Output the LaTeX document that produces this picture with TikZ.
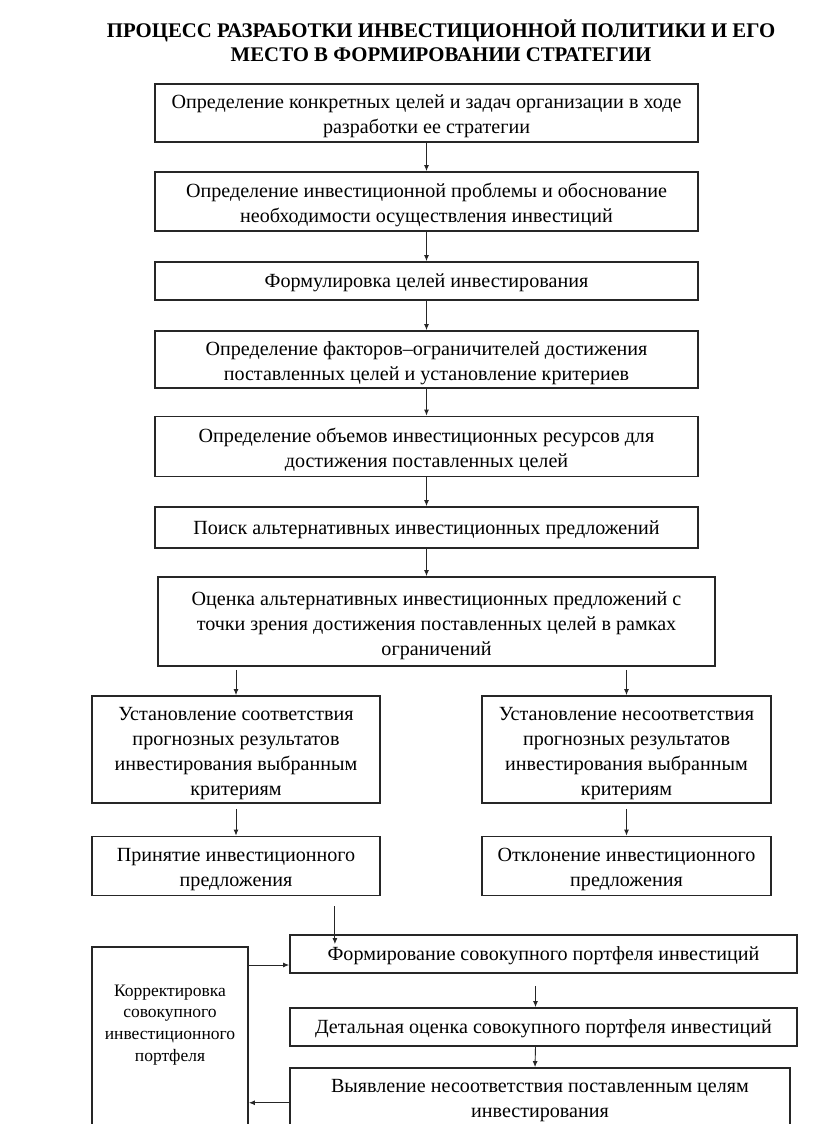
\documentclass[tikz,border=0pt]{standalone}
\usepackage{fontspec}
\setmainfont{Liberation Serif}
\usetikzlibrary{arrows.meta}
\newcommand\boxtext[2][6pt]{\raisebox{0pt}[\dimexpr\height+#1\relax][\depth]{\begin{tabular}{@{}c@{}}#2\end{tabular}}}
\begin{document}
\begin{tikzpicture}[x=1pt,y=-1pt,
  box/.style={draw=black!85, line width=1.8pt, inner sep=0pt,
    font=\fontsize{20.1}{25}\selectfont},
  arr/.style={draw=black!85, line width=0.9pt, -{Latex[length=6pt,width=5pt]}},
  ttl/.style={align=center, font=\fontsize{20.8}{24}\selectfont\bfseries}]
\useasboundingbox (0,0) rectangle (816,1124);
\node[ttl] (title) at (441,41) {ПРОЦЕСС РАЗРАБОТКИ ИНВЕСТИЦИОННОЙ ПОЛИТИКИ И ЕГО\\МЕСТО В ФОРМИРОВАНИИ СТРАТЕГИИ};
\node[box, minimum width=543pt, minimum height=58pt] (b1) at (426.5,113) {\boxtext{Определение конкретных целей и задач организации в ходе\\разработки ее стратегии}};
\node[box, minimum width=543pt, minimum height=59pt] (b2) at (426.5,201.5) {\boxtext{Определение инвестиционной проблемы и обоснование\\необходимости осуществления инвестиций}};
\node[box, minimum width=543pt, minimum height=38pt] (b3) at (426.5,281) {\boxtext[3pt]{Формулировка целей инвестирования}};
\node[box, minimum width=543pt, minimum height=57pt] (b4) at (426.5,359.5) {\boxtext{Определение факторов–ограничителей достижения\\поставленных целей и установление критериев}};
\node[box, minimum width=543pt, minimum height=60pt] (b5) at (426.5,446.5) {\boxtext{Определение объемов инвестиционных ресурсов для\\достижения поставленных целей}};
\node[box, minimum width=543pt, minimum height=41pt] (b6) at (426.5,527.5) {\boxtext[3pt]{Поиск альтернативных инвестиционных предложений}};
\node[box, minimum width=557pt, minimum height=89pt] (b7) at (436.5,621.5) {\boxtext[8pt]{Оценка альтернативных инвестиционных предложений с\\точки зрения достижения поставленных целей в рамках\\ограничений}};
\node[box, minimum width=288pt, minimum height=106pt] (b8l) at (236,749.5) {\boxtext[7pt]{Установление соответствия\\прогнозных результатов\\инвестирования выбранным\\критериям}};
\node[box, minimum width=289pt, minimum height=106pt] (b8r) at (626.5,749.5) {\boxtext[7pt]{Установление несоответствия\\прогнозных результатов\\инвестирования выбранным\\критериям}};
\node[box, minimum width=288pt, minimum height=59pt] (b9l) at (236,866) {\boxtext[5pt]{Принятие инвестиционного\\предложения}};
\node[box, minimum width=289pt, minimum height=59pt] (b9r) at (626.5,866) {\boxtext[5pt]{Отклонение инвестиционного\\предложения}};
\node[box, minimum width=507pt, minimum height=38pt] (b10) at (543.5,954) {\boxtext[3pt]{Формирование совокупного портфеля инвестиций}};
\node[box, minimum width=156pt, minimum height=190pt] (lb) at (170,1042) {};
\node[align=center, font=\fontsize{17.5}{21.7}\selectfont, anchor=north] (lbt) at (170,981) {Корректировка\\совокупного\\инвестиционного\\портфеля};
\node[box, minimum width=507pt, minimum height=38pt] (b11) at (543.5,1027) {\boxtext[3pt]{Детальная оценка совокупного портфеля инвестиций}};
\node[box, minimum width=500pt, minimum height=70pt] (b12) at (540,1103) {};
\node[align=center, font=\fontsize{20.1}{25}\selectfont, anchor=north] (b12t) at (540,1076) {Выявление несоответствия поставленным целям\\инвестирования};
% connectors
\draw[arr] (b1.south) -- (b2.north);
\draw[arr] (b2.south) -- (b3.north);
\draw[arr] (b3.south) -- (b4.north);
\draw[arr] (b4.south) -- (b5.north);
\draw[arr] (b5.south) -- (b6.north);
\draw[arr] (b6.south) -- (b6.south |- b7.north);
\draw[arr] ([yshift=-3pt]b7.south -| b8l.north) -- (b8l.north);
\draw[arr] ([yshift=-3pt]b7.south -| b8r.north) -- (b8r.north);
\draw[arr] ([yshift=-5pt]b8l.south) -- (b9l.north);
\draw[arr] ([yshift=-5pt]b8r.south) -- (b9r.north);
\draw[arr] ([xshift=-46pt,yshift=-10pt]b9l.south east) -- ([xshift=-46pt,yshift=-10pt]b9l.south east |- b10.north);
\draw[arr] ([yshift=-11pt]lb.east |- b10.center) -- ([yshift=-11pt]b10.west);
\draw[arr] ([xshift=-8pt,yshift=-12pt]b10.south) -- ([xshift=-8pt]b11.north);
\draw[arr] ([xshift=-8pt]b11.south) -- ([xshift=-5pt]b12.north);
\draw[arr] ([yshift=-2pt]b12.west |- b12t.center) -- ([yshift=-2pt]lb.east |- b12t.center);
\end{tikzpicture}
\end{document}
